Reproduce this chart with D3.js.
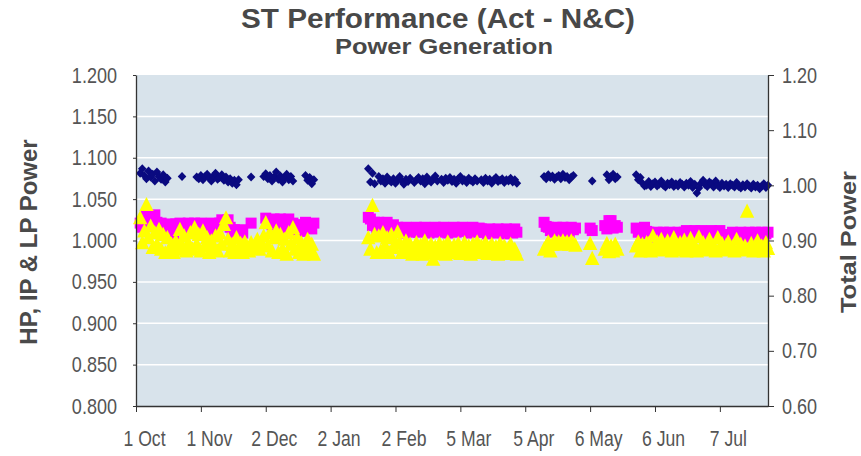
<!DOCTYPE html>
<html>
<head>
<meta charset="utf-8">
<script src="https://cdn.jsdelivr.net/npm/d3@7"></script>
<style>
  body { margin: 0; background: #fff; }
  svg text { font-family: "Liberation Sans", Arial, sans-serif; }
</style>
</head>
<body>
<svg id="chart" width="861" height="456"></svg>
<script>
// first day of each run of daily readings (data is daily inside each run)
const segStarts = ["2001-10-03", "2002-01-20", "2002-04-14", "2002-05-06", "2002-05-13", "2002-05-28"];

// Total power (right axis) - dark blue diamonds
const totalPower = [
  [1.022, 1.030, 1.018, 1.012, 1.026, 1.015, 1.020, 1.008, 1.024, 1.016, 1.011, 1.019, 1.006, 1.013,
   null, null, null, null, null, null,
   1.016,
   null, null, null, null, null, null,
   1.015, 1.012, 1.018, 1.010, 1.016, 1.020, 1.013, 1.008, 1.017, 1.022, 1.011, 1.014, 1.019, 1.009, 1.015, 1.006, 1.012, 1.004, 1.009, 1.001, 1.010,
   null, null, null, null, null,
   1.015,
   null, null, null, null, null,
   1.016, 1.021, 1.012, 1.018, 1.008, 1.015, 1.024, 1.011, 1.017, 1.006, 1.013, 1.020, 1.010, 1.016, 1.008,
   null, null, null, null, null,
   1.018, 1.009, 1.014, 1.003, 1.010],
  [1.030, 1.006, 1.022, 1.003, null,
   1.016, 1.008, 1.012, 1.004, 1.015, 1.009, 1.006,
   1.012, 1.004, 1.010, 1.016, 1.008, 1.002, 1.011, 1.007, 1.013, null, 1.005, 1.010, 1.014,
   1.008, 1.012, 1.003, 1.015, 1.009, 1.006, 1.012, 1.017, 1.008, null, 1.011, 1.005, 1.013, 1.009, 1.014,
   1.007, 1.011, 1.004, 1.012, 1.016, 1.008, 1.010, 1.005, 1.013, 1.009, 1.006, 1.012, 1.008, null, 1.010,
   1.005, 1.013, 1.008, 1.011, 1.004, 1.010, 1.014, 1.007, 1.009, 1.012, 1.005, 1.010, 1.008, 1.013, 1.006, 1.010, 1.004],
  [1.016, 1.012, 1.019, 1.014, 1.017, 1.011, 1.015, 1.018, 1.012, 1.020, 1.014, 1.016, 1.010, 1.015, 1.018, null],
  [null, 1.008],
  [null, 1.019, 1.010, 1.016, 1.020, 1.012, 1.015],
  [1.019, 1.010, 1.014, 1.004, 0.999,
   1.000, 1.007, 0.998, 1.003, 1.006, 0.999, 1.002, 1.008, 1.000,
   0.997, 1.004, 1.001, 1.006, 0.998, 1.003, 0.999, 1.005, 1.002, 0.997,
   1.004, 1.000, 1.007, 0.996, 1.002, 0.986, 0.995, 1.004, 1.009, 1.001,
   0.998, 1.006, 1.003, 0.997, 1.008, 1.000, 0.996, 1.004, 0.999, 1.002,
   0.996, 1.003, 1.000, 0.997, 1.005, 0.998, 0.995, 1.001, 0.997, 1.003,
   0.999, 0.995, 1.002, 0.997, 1.000, 0.994, 0.999, 1.003, 0.996, 1.000]
];

// HP power (left axis) - magenta squares
const hpPower = [
  [1.021, 1.016, 1.019,
   1.031, 1.026, 1.030, 1.024, 1.031, 1.022, 1.018,
   1.021, 1.014, 1.019, 1.012, 1.020, 1.015,
   1.008,
   1.020, 1.014, 1.021, 1.012, 1.018, 1.010, 1.021, 1.015, 1.019,
   1.021, 1.013, 1.018, 1.021, 1.011, 1.017, 1.020, 1.014, 1.021, 1.012, 1.019, 1.016, 1.021,
   1.025, 1.018, 1.023, 1.025, 1.016,
   1.010, 1.013, 1.008, 1.012, 1.013, 1.009,
   null, null,
   null, 1.021, null,
   null, null, null, null, null,
   1.027, 1.021, 1.025, 1.019, 1.026,
   1.024, 1.018, 1.026, 1.020, 1.015, 1.023, 1.026, 1.017, 1.021,
   1.019, 1.013, 1.017, 1.011, 1.019,
   1.022, 1.016, 1.020, 1.014, 1.021],
  [1.028, 1.026, 1.018, 1.022, 1.016,
   1.022, 1.016, 1.020, 1.013, 1.022, 1.017, 1.012, 1.019, 1.015,
   1.016, 1.011, 1.014, 1.009, 1.016, 1.012, 1.010, 1.015, 1.013, 1.016,
   1.010, 1.014, 1.011, 1.016, 1.012, 1.009, 1.015, 1.013, 1.016, 1.010,
   1.014, 1.012, 1.016, 1.011, 1.009, 1.015, 1.013, 1.016, 1.010, 1.014,
   1.012, 1.016, 1.011, 1.015, 1.009, 1.013, 1.016, 1.012, 1.010, 1.015,
   1.014, 1.010, 1.013, 1.008, 1.014, 1.011, 1.009, 1.013, 1.014, 1.010, 1.012, 1.008, 1.014, 1.011, 1.013, 1.009, 1.014, 1.010],
  [1.022, 1.017, 1.016, 1.012, 1.015, 1.010, 1.016, 1.013, 1.011, 1.016, 1.012, 1.014, 1.010, 1.016, 1.013, 1.015],
  [1.015, 1.012],
  [1.018, 1.014, 1.024, 1.024, 1.015, 1.018, 1.016],
  [1.015, 1.010, 1.014, 1.008, 1.016, 1.011,
   1.010, 1.006, 1.009, 1.004, 1.010, 1.007, 1.005, 1.010, 1.006, 1.008, 1.010, 1.005, 1.009, 1.006, 1.010, 1.004, 1.008, 1.010,
   1.012, 1.008, 1.011, 1.006, 1.012, 1.009, 1.007, 1.012, 1.010, 1.006, 1.011, 1.008, 1.012, 1.009, 1.006, 1.011, 1.012,
   1.007, 1.004, 1.006, 1.003, 1.007,
   1.010, 1.006, 1.009, 1.005, 1.010, 1.007, 1.004, 1.009, 1.010, 1.006, 1.008, 1.010, 1.005, 1.009, 1.010, 1.006, 1.008, 1.010]
];

// IP power (left axis) - yellow triangles
const ipPower = [
  [1.028, 0.998, 1.012,
   1.044,
   1.004, 1.018, 0.992, 1.010, 0.996, 1.014,
   0.990, 1.008, 0.986, 1.004, 0.988, 0.996, 0.986,
   1.000, 0.990, 1.014, 0.994, 1.006, 0.988,
   0.998, 1.010, 0.990, 1.016, 0.996, 1.008, 0.988, 1.012, 0.994, 1.004, 0.986, 1.000,
   0.992, 1.006, 0.988, 1.010, 0.996, 1.020, 1.028, 1.002, 0.988, 0.996,
   0.986, 1.004, 0.990, 0.997, 0.986, 0.999, 0.992, 0.988, 0.998, 0.991,
   0.996, 1.002, 0.990, 0.998, 1.006, 1.022, 0.994, 1.010, 0.988, 1.004,
   1.012, 0.986, 1.008, 0.990, 1.002, 0.984, 1.010, 0.996, 1.016, 0.990,
   1.004, 0.986, 0.998, 0.984, 0.994, 1.002, 0.986, 0.996, 0.984],
  [1.004, 0.990, 1.043, 1.008, 0.986,
   1.006, 0.988, 1.010, 0.994, 1.004, 0.986, 1.008, 0.992, 0.998,
   1.011, 0.998, 0.986, 0.994, 1.000, 0.988, 0.996, 0.984, 0.992, 0.998,
   0.988, 0.995, 0.984, 1.000, 0.990, 0.986, 0.996, 0.978, 0.993, 0.985,
   0.997, 0.989, 0.994, 0.984, 0.999, 0.990, 0.986, 0.995, 0.988, 0.997,
   0.985, 0.992, 0.998, 0.987, 0.994, 0.984, 0.996, 0.989, 0.999, 0.986,
   0.994, 0.988, 0.998, 0.985, 0.992, 0.996, 0.987, 0.993, 0.984, 0.997, 0.989, 0.994, 0.985, 0.991, 0.996, 0.986, 0.990, 0.984],
  [0.990, 0.994, 0.999, 0.988, 0.996, 1.000, 0.997, 0.999, 0.996, 1.000, 0.997, 0.999, 0.996, 1.000, 0.997, 0.995],
  [0.997, 0.979],
  [0.990, 0.997, 0.987, 0.994, 0.988, 0.996, 0.990],
  [0.994, 0.999, 0.988, 0.996, 0.990, 0.998,
   0.997, 0.988, 1.006, 0.993, 0.999, 0.989, 1.002, 0.994,
   0.990, 1.000, 0.993, 0.988, 1.004, 0.995, 0.989, 0.998, 0.991, 1.001,
   0.988, 0.996, 1.003, 0.990, 0.994, 0.988, 1.005, 0.992, 0.998, 0.989,
   0.996, 1.002, 0.990, 0.994, 0.988, 1.004, 0.992, 0.997, 0.989, 0.995,
   0.999, 0.990, 0.993, 0.988, 1.002, 0.991, 0.996, 0.989, 0.994, 1.036,
   0.990, 0.997, 0.988, 0.995, 1.000, 0.989, 0.994, 0.988, 0.998, 0.991]
];

const xStart = "2001-10-01";
const xEnd = "2002-07-30";
const tickDates = ["2001-10-01", "2001-11-01", "2001-12-02", "2002-01-02", "2002-02-02",
                   "2002-03-05", "2002-04-05", "2002-05-06", "2002-06-06", "2002-07-07"];
const leftTicks = [0.80, 0.85, 0.90, 0.95, 1.00, 1.05, 1.10, 1.15, 1.20];
const rightTicks = [0.60, 0.70, 0.80, 0.90, 1.00, 1.10, 1.20];

const parseDate = d3.timeParse("%Y-%m-%d");

function toPoints(series) {
  const pts = [];
  series.forEach((seg, s) => {
    const start = parseDate(segStarts[s]);
    seg.forEach((v, i) => {
      if (v !== null) pts.push({ date: d3.timeDay.offset(start, i), value: v });
    });
  });
  return pts;
}

const svg = d3.select("#chart");
const margin = { top: 75, right: 93, bottom: 50, left: 136 };
const width = +svg.attr("width");
const height = +svg.attr("height");
const x0 = margin.left, x1 = width - margin.right;
const y0 = height - margin.bottom, y1 = margin.top;

const x = d3.scaleTime()
  .domain([parseDate(xStart), parseDate(xEnd)])
  .range([x0, x1]);
const yL = d3.scaleLinear().domain([0.8, 1.2]).range([y0, y1]);
const yR = d3.scaleLinear().domain([0.6, 1.2]).range([y0, y1]);

// plot background
svg.append("rect")
  .attr("x", x0).attr("y", y1)
  .attr("width", x1 - x0).attr("height", y0 - y1)
  .attr("fill", "#d8e3eb");

// white gridlines on left ticks
svg.append("g")
  .selectAll("line")
  .data(leftTicks.slice(1, -1))
  .enter().append("line")
  .attr("x1", x0).attr("x2", x1)
  .attr("y1", d => yL(d)).attr("y2", d => yL(d))
  .attr("stroke", "#fff")
  .attr("stroke-width", 1.5);

// magenta squares
svg.append("g")
  .selectAll("rect")
  .data(toPoints(hpPower))
  .enter().append("rect")
  .attr("x", d => x(d.date) - 5.5)
  .attr("y", d => yL(d.value) - 5.5)
  .attr("width", 11).attr("height", 11)
  .attr("fill", "#ff00ff");

// yellow triangles
svg.append("g")
  .selectAll("path")
  .data(toPoints(ipPower))
  .enter().append("path")
  .attr("d", "M0,-7.2L7.2,7L-7.2,7Z")
  .attr("transform", d => `translate(${x(d.date)},${yL(d.value)})`)
  .attr("fill", "#ffff00");

// blue diamonds on the right axis
svg.append("g")
  .selectAll("path")
  .data(toPoints(totalPower))
  .enter().append("path")
  .attr("d", "M0,-4.5L4.3,0L0,4.5L-4.3,0Z")
  .attr("transform", d => `translate(${x(d.date)},${yR(d.value)})`)
  .attr("fill", "#0a0a80");

function narrow(sel, ratio) {
  sel.each(function () {
    const len = this.getComputedTextLength();
    d3.select(this).attr("textLength", len * ratio).attr("lengthAdjust", "spacingAndGlyphs");
  });
}

function styleAxis(g) {
  g.select(".domain").attr("stroke", "#333").attr("stroke-width", 1.3);
  g.selectAll(".tick line").attr("stroke", "#333");
  g.selectAll("text")
    .attr("fill", "#555")
    .style("font-size", "22px");
}

// left axis
const gL = svg.append("g")
  .attr("transform", `translate(${x0},0)`)
  .call(d3.axisLeft(yL).tickValues(leftTicks).tickFormat(d3.format(".3f")).tickSize(3).tickSizeOuter(0).tickPadding(16));
styleAxis(gL);
narrow(gL.selectAll("text"), 0.82);

// right axis
const gR = svg.append("g")
  .attr("transform", `translate(${x1},0)`)
  .call(d3.axisRight(yR).tickValues(rightTicks).tickFormat(d3.format(".2f")).tickSize(6).tickSizeOuter(0).tickPadding(8));
styleAxis(gR);
narrow(gR.selectAll("text"), 0.82);

// bottom axis
const gB = svg.append("g")
  .attr("transform", `translate(0,${y0})`)
  .call(d3.axisBottom(x).tickValues(tickDates.map(parseDate)).tickFormat(d3.timeFormat("%-d %b")).tickSize(6).tickSizeOuter(0).tickPadding(18));
styleAxis(gB);
gB.selectAll("text").attr("dx", 8);
narrow(gB.selectAll("text"), 0.8);

// titles
svg.append("text")
  .attr("x", 438).attr("y", 28)
  .attr("text-anchor", "middle")
  .attr("fill", "#484848")
  .style("font-size", "27px").style("font-weight", "bold")
  .attr("textLength", 394).attr("lengthAdjust", "spacingAndGlyphs")
  .text("ST Performance (Act - N&C)");

svg.append("text")
  .attr("x", 444).attr("y", 54)
  .attr("text-anchor", "middle")
  .attr("fill", "#484848")
  .style("font-size", "22px").style("font-weight", "bold")
  .attr("textLength", 218).attr("lengthAdjust", "spacingAndGlyphs")
  .text("Power Generation");

svg.append("text")
  .attr("transform", "translate(37,242) rotate(-90)")
  .attr("text-anchor", "middle")
  .attr("fill", "#4a4a4a")
  .style("font-size", "24px").style("font-weight", "bold")
  .text("HP, IP & LP Power");

svg.append("text")
  .attr("transform", "translate(856,242) rotate(-90)")
  .attr("text-anchor", "middle")
  .attr("fill", "#4a4a4a")
  .style("font-size", "22px").style("font-weight", "bold")
  .attr("textLength", 142).attr("lengthAdjust", "spacingAndGlyphs")
  .text("Total Power");
</script>
</body>
</html>
